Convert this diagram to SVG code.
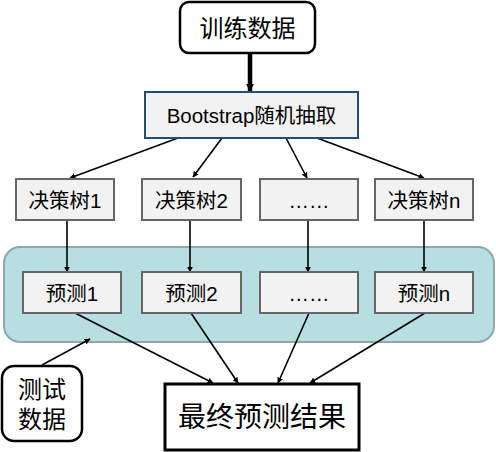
<svg xmlns="http://www.w3.org/2000/svg" width="496" height="452" viewBox="0 0 496 452">
<style>
text{font-family:"Liberation Sans","Noto Sans CJK SC",sans-serif;fill:#000;text-anchor:middle;dominant-baseline:central}
.box{fill:#F2F2F2;stroke:#666;stroke-width:2}
.rb{fill:#fff;stroke:#000;stroke-width:2.5}
.c{stroke:#000;stroke-width:1.6;fill:none;marker-end:url(#ah)}
.t19{font-size:20.5px}
</style>
<defs>
<marker id="ah" viewBox="0 0 10 10" refX="9" refY="5" markerWidth="6" markerHeight="6" orient="auto" markerUnits="userSpaceOnUse"><path d="M0,0L10,5L0,10z" fill="#000"/></marker>
<marker id="ah2" viewBox="0 0 10 10" refX="9" refY="5" markerWidth="8" markerHeight="8" orient="auto" markerUnits="userSpaceOnUse"><path d="M0,0L10,5L0,10z" fill="#000"/></marker>
</defs>
<g id="container"><rect x="4" y="247" width="490" height="95" rx="16" fill="#B7DEE1" stroke="#8FA9AA" stroke-width="2"/></g>
<g id="connectors">
<line x1="250" y1="53" x2="250" y2="91" stroke="#000" stroke-width="4.5" marker-end="url(#ah2)"/>
<line class="c" x1="178" y1="138" x2="70" y2="178"/>
<line class="c" x1="222" y1="138" x2="193" y2="177"/>
<line class="c" x1="286" y1="138" x2="307" y2="178"/>
<line class="c" x1="317" y1="138" x2="424" y2="178"/>
<line class="c" x1="67" y1="220" x2="67" y2="272"/>
<line class="c" x1="190" y1="220" x2="190" y2="272"/>
<line class="c" x1="308" y1="220" x2="308" y2="272"/>
<line class="c" x1="424" y1="220" x2="424" y2="272"/>
<line class="c" x1="75" y1="313" x2="213" y2="383"/>
<line class="c" x1="191" y1="313" x2="238" y2="383"/>
<line class="c" x1="309" y1="313" x2="278" y2="383"/>
<line class="c" x1="425" y1="313" x2="310" y2="383"/>
<line class="c" x1="42" y1="365" x2="90" y2="339"/>
</g>
<g id="train"><rect class="rb" x="180" y="2" width="135" height="51" rx="9"/><text x="247.5" y="28" font-size="24">训练数据</text></g>
<g id="bootstrap"><rect x="145" y="92" width="213" height="46" fill="#F2F2F2" stroke="#1F4E79" stroke-width="2"/><text x="251.5" y="115" font-size="20.5">Bootstrap随机抽取</text></g>
<g id="tree1"><rect class="box" x="16" y="179" width="98" height="41"/><text class="t19" x="65" y="200">决策树1</text></g>
<g id="tree2"><rect class="box" x="142" y="179" width="99" height="41"/><text class="t19" x="191.5" y="200">决策树2</text></g>
<g id="tree3"><rect class="box" x="260" y="179" width="98" height="41"/><text class="t19" x="309" y="200">……</text></g>
<g id="tree4"><rect class="box" x="375" y="179" width="98" height="41"/><text class="t19" x="424" y="200">决策树n</text></g>
<g id="pred1"><rect class="box" x="23" y="272" width="98" height="41"/><text class="t19" x="72" y="293">预测1</text></g>
<g id="pred2"><rect class="box" x="142" y="272" width="99" height="41"/><text class="t19" x="191.5" y="293">预测2</text></g>
<g id="pred3"><rect class="box" x="260" y="272" width="98" height="41"/><text class="t19" x="309" y="293">……</text></g>
<g id="pred4"><rect class="box" x="375" y="272" width="98" height="41"/><text class="t19" x="424" y="293">预测n</text></g>
<g id="test"><rect class="rb" x="2" y="366" width="80" height="75" rx="12"/><text x="42" y="389" font-size="24">测试</text><text x="42" y="419" font-size="24">数据</text></g>
<g id="final"><rect x="165" y="384" width="194" height="66" fill="#fff" stroke="#000" stroke-width="3"/><text x="262" y="417" font-size="28">最终预测结果</text></g>
</svg>
